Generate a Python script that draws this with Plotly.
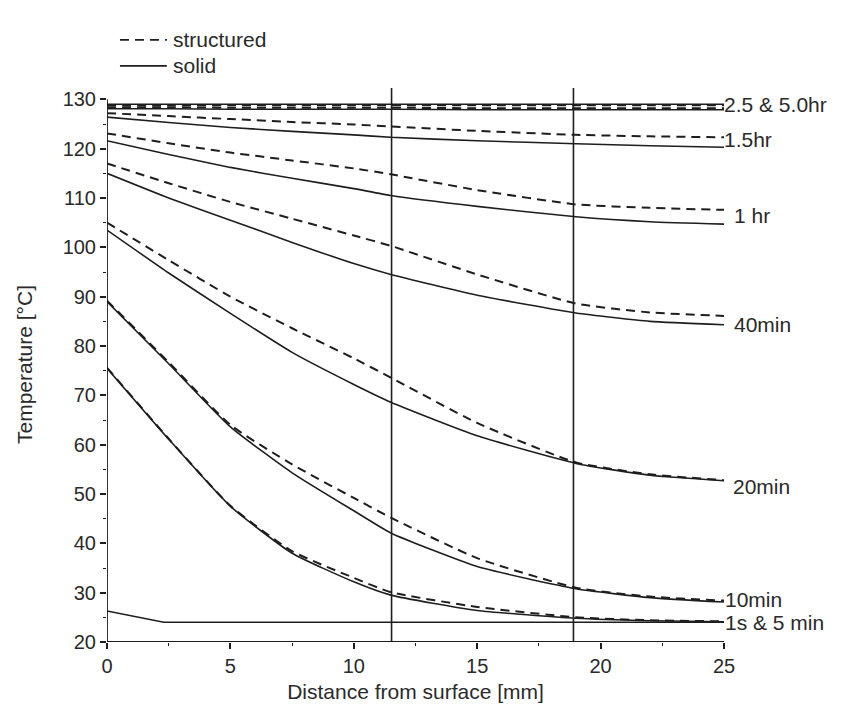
import plotly.graph_objects as go

# ---------------- data ----------------
x_grid = [0, 2.5, 5, 7.5, 10, 11.5, 15, 19, 22, 25]

s_5hr_solid = [129.0, 129.0, 129.0, 129.0, 129.0, 129.0, 129.0, 129.0, 129.0, 129.0]
s_5hr_struct = [128.8, 128.8, 128.8, 128.8, 128.8, 128.8, 128.8, 128.8, 128.8, 128.8]
s_25hr_struct = [128.4, 128.4, 128.3, 128.3, 128.3, 128.3, 128.2, 128.2, 128.2, 128.2]
s_25hr_solid = [128.1, 128.1, 128.0, 128.0, 128.0, 128.0, 127.9, 127.9, 127.9, 127.9]
s_15hr_struct = [127.2, 126.6, 126.0, 125.4, 124.9, 124.5, 123.6, 122.8, 122.5, 122.3]
s_15hr_solid = [126.4, 125.3, 124.3, 123.5, 122.8, 122.3, 121.6, 121.0, 120.6, 120.3]
s_1hr_struct = [123.1, 121.1, 119.2, 117.6, 116.0, 114.8, 111.6, 108.7, 108.0, 107.6]
s_1hr_solid = [121.6, 118.8, 116.2, 114.0, 111.9, 110.5, 108.3, 106.2, 105.2, 104.7]
s_40m_struct = [117.0, 113.0, 109.2, 105.8, 102.4, 100.3, 94.5, 88.6, 86.8, 86.1]
s_40m_solid = [115.0, 110.0, 105.5, 101.0, 96.7, 94.5, 90.3, 86.7, 85.0, 84.3]
s_20m_struct = [105.0, 97.4, 90.0, 83.6, 77.5, 73.6, 64.4, 56.4, 54.0, 52.8]
s_20m_solid = [103.5, 94.8, 86.6, 78.7, 72.2, 68.6, 61.8, 56.2, 53.8, 52.7]
s_10m_struct = [89.2, 76.7, 64.0, 56.0, 49.2, 45.2, 37.0, 31.0, 29.2, 28.4]
s_10m_solid = [89.0, 76.4, 63.6, 54.3, 46.6, 42.1, 35.3, 30.8, 29.0, 28.1]
s_5m_struct = [75.6, 61.2, 47.6, 38.4, 33.0, 30.1, 27.1, 25.0, 24.4, 24.2]
s_5m_solid = [75.5, 61.1, 47.5, 38.0, 32.2, 29.5, 26.4, 24.8, 24.3, 24.1]

x_1s = [0, 2.3, 25]
s_1s_solid = [26.3, 24.0, 24.0]

marker_lines_x = [11.53, 18.9]

label_texts = ["2.5 & 5.0hr", "1.5hr", "1 hr", "40min", "20min", "10min", "1s & 5 min"]
label_y = [129.0, 121.8, 106.4, 84.4, 51.6, 28.7, 24.0]

legend_names = ["structured", "solid"]

x_ticks = [0, 5, 10, 15, 20, 25]
y_ticks = [20, 30, 40, 50, 60, 70, 80, 90, 100, 110, 120, 130]

# ---------------- figure ----------------
INK = "#1e1e1e"
TXT = "#2a2a2a"
FONT = "Liberation Sans, Arial, Helvetica, sans-serif"
FS = 20
FS_BIG = 21
DASH = "9px,6px"

fig = go.Figure()

structured = [s_5hr_struct, s_25hr_struct, s_15hr_struct, s_1hr_struct,
              s_40m_struct, s_20m_struct, s_10m_struct, s_5m_struct]
solid = [s_5hr_solid, s_25hr_solid, s_15hr_solid, s_1hr_solid,
         s_40m_solid, s_20m_solid, s_10m_solid, s_5m_solid]

for ys in structured:
    fig.add_trace(go.Scatter(
        x=x_grid, y=ys, mode="lines", name=legend_names[0],
        line=dict(color=INK, width=2.0, dash=DASH, shape="spline", smoothing=0.5),
        showlegend=False, hoverinfo="skip"))

for ys in solid:
    fig.add_trace(go.Scatter(
        x=x_grid, y=ys, mode="lines", name=legend_names[1],
        line=dict(color=INK, width=1.6, shape="spline", smoothing=0.5),
        showlegend=False, hoverinfo="skip"))

fig.add_trace(go.Scatter(
    x=x_1s, y=s_1s_solid, mode="lines", name=legend_names[1],
    line=dict(color=INK, width=1.6), showlegend=False, hoverinfo="skip"))

shapes = []
for xv in marker_lines_x:
    shapes.append(dict(type="line", xref="x", yref="y", x0=xv, x1=xv, y0=20, y1=132.3,
                       line=dict(color=INK, width=1.6)))
# axis lines
shapes.append(dict(type="line", xref="x", yref="y", x0=0, x1=0, y0=20, y1=130,
                   line=dict(color=INK, width=1.8)))
shapes.append(dict(type="line", xref="x", yref="y", x0=0, x1=25, y0=20, y1=20,
                   line=dict(color=INK, width=1.8)))

# manual legend (line samples + text)
leg_y = [1.085, 1.038]
leg_dash = [DASH, "solid"]
annotations = []
for name, ly, dsh in zip(legend_names, leg_y, leg_dash):
    shapes.append(dict(type="line", xref="paper", yref="paper", x0=0.021, x1=0.097,
                       y0=ly, y1=ly, line=dict(color=INK, width=1.8, dash=dsh)))
    annotations.append(dict(x=0.104, y=ly, xref="paper", yref="paper", text=name,
                            showarrow=False, xanchor="left", yanchor="middle",
                            font=dict(family=FONT, size=FS_BIG, color=TXT)))

label_shift_px = [-2, -2, 8, 8, 7, -1, -1]
for t, yv, dx in zip(label_texts, label_y, label_shift_px):
    annotations.append(dict(x=25, y=yv, xref="x", yref="y", text=t, showarrow=False,
                            xanchor="left", yanchor="middle", xshift=dx,
                            font=dict(family=FONT, size=FS_BIG, color=TXT)))

fig.update_layout(
    width=836, height=701,
    margin=dict(l=99, r=120, t=79, b=67),
    paper_bgcolor="white", plot_bgcolor="white",
    font=dict(family=FONT, size=FS, color=TXT),
    showlegend=False,
    shapes=shapes,
    annotations=annotations,
    xaxis=dict(range=[0, 25], tickvals=x_ticks, ticktext=[str(v) for v in x_ticks],
               showgrid=False, zeroline=False, showline=False, automargin=False,
               ticks="outside", ticklen=6, tickwidth=1.6, tickcolor=INK,
               minor=dict(dtick=2.5, ticks="outside", ticklen=3, tickwidth=1.2, tickcolor=INK, showgrid=False),
               tickfont=dict(family=FONT, size=FS, color=TXT),
               title=dict(text="Distance from surface [mm]", standoff=8,
                          font=dict(family=FONT, size=FS_BIG, color=TXT))),
    yaxis=dict(range=[20, 132.5], tickvals=y_ticks, ticktext=[str(v) for v in y_ticks],
               showgrid=False, zeroline=False, showline=False, automargin=False,
               ticks="outside", ticklen=6, tickwidth=1.6, tickcolor=INK,
               minor=dict(tickvals=[25, 35, 45, 55, 65, 75, 85, 95, 105, 115, 125],
                          ticks="outside", ticklen=3, tickwidth=1.2, tickcolor=INK, showgrid=False),
               tickfont=dict(family=FONT, size=FS, color=TXT),
               title=dict(text="Temperature [°C]", standoff=24,
                          font=dict(family=FONT, size=FS_BIG, color=TXT))),
)

fig.write_html("out.html")
